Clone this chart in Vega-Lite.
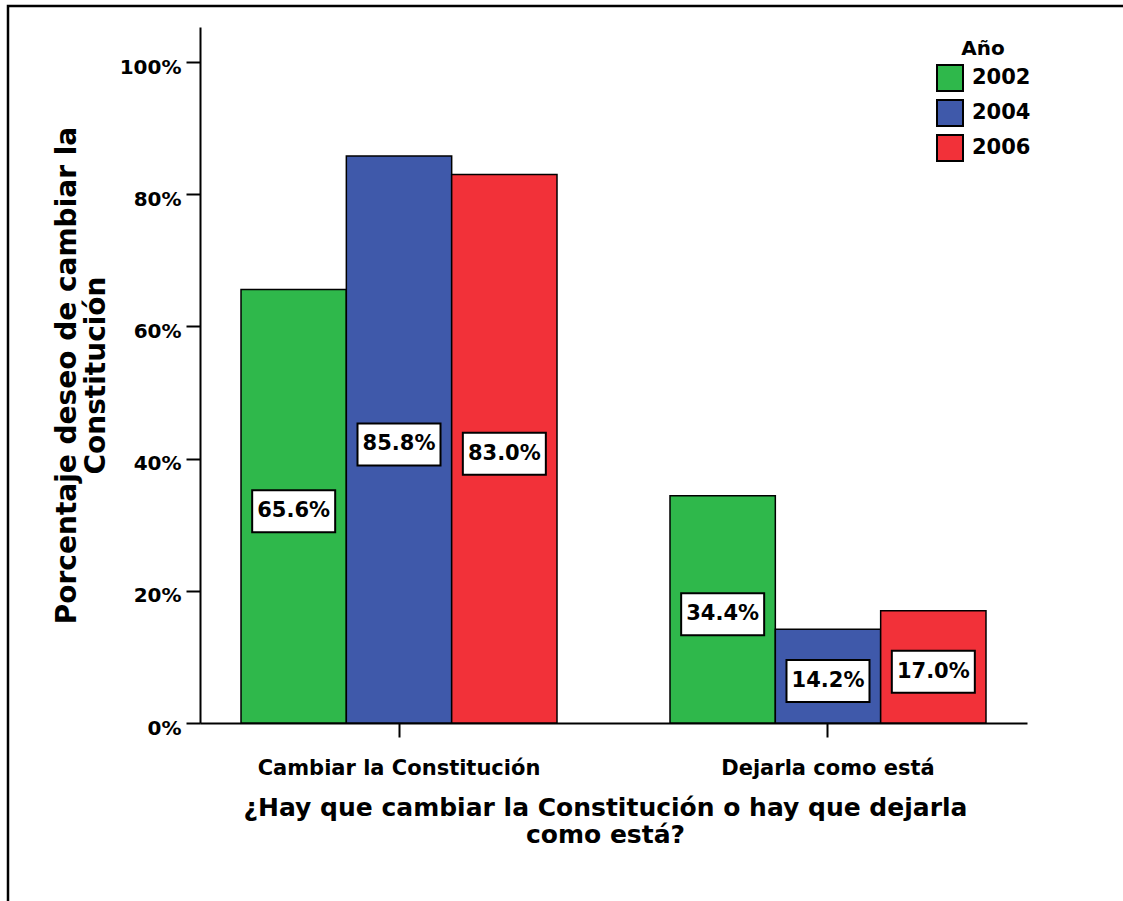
{
  "$schema": "https://vega.github.io/schema/vega-lite/v6.json",
  "width": 1118,
  "height": 900,
  "autosize": {"type": "none"},
  "padding": {"left": 8, "top": 6, "right": 0, "bottom": 0},
  "background": "white",
  "config": {
    "view": {"stroke": "black", "strokeWidth": 2.5},
    "font": "DejaVu Sans"
  },
  "data": {
    "values": [
      {"question": "Cambiar la Constitución", "year": "2002", "value": 0.656},
      {"question": "Cambiar la Constitución", "year": "2004", "value": 0.858},
      {"question": "Cambiar la Constitución", "year": "2006", "value": 0.830},
      {"question": "Dejarla como está", "year": "2002", "value": 0.344},
      {"question": "Dejarla como está", "year": "2004", "value": 0.142},
      {"question": "Dejarla como está", "year": "2006", "value": 0.170}
    ]
  },
  "encoding": {
    "x": {
      "field": "question",
      "type": "nominal",
      "sort": ["Cambiar la Constitución", "Dejarla como está"],
      "scale": {"range": [192, 1019], "paddingInner": 0.2634, "paddingOuter": 0.0956},
      "axis": {
        "orient": "bottom",
        "offset": -183,
        "title": ["¿Hay que cambiar la Constitución o hay que dejarla", "como está?"],
        "labelAngle": 0,
        "labelLimit": 0,
        "tickSize": 14,
        "tickWidth": 2,
        "tickColor": "black",
        "domainColor": "black",
        "domainWidth": 2,
        "labelFont": "DejaVu Sans",
        "labelFontWeight": "bold",
        "labelFontSize": 21,
        "labelColor": "black",
        "labelPadding": 20,
        "titleFont": "DejaVu Sans",
        "titleFontWeight": "bold",
        "titleFontSize": 25,
        "titleColor": "black",
        "titleLineHeight": 27,
        "titlePadding": 17,
        "titleX": 597
      }
    },
    "xOffset": {
      "field": "year",
      "type": "nominal",
      "sort": ["2002", "2004", "2006"],
      "scale": {"paddingInner": 0, "paddingOuter": 0}
    }
  },
  "layer": [
    {
      "mark": {"type": "bar", "stroke": "black", "strokeWidth": 1.5},
      "encoding": {
        "y": {
          "field": "value",
          "type": "quantitative",
          "title": ["Porcentaje deseo de cambiar la", "Constitución"],
          "scale": {"domain": [0, 1.053], "range": [717, 21], "nice": false, "zero": true},
          "axis": {
            "format": ".0%",
            "values": [0, 0.2, 0.4, 0.6, 0.8, 1.0],
            "offset": -192,
            "grid": false,
            "tickSize": 14,
            "tickWidth": 2,
            "tickColor": "black",
            "domainColor": "black",
            "domainWidth": 2,
            "labelFont": "DejaVu Sans",
            "labelFontWeight": "bold",
            "labelFontSize": 20,
            "labelColor": "black",
            "labelPadding": 5,
            "labelOffset": 5,
            "titleFont": "DejaVu Sans",
            "titleFontWeight": "bold",
            "titleFontSize": 28,
            "titleColor": "black",
            "titleLineHeight": 29,
            "titlePadding": 9
          }
        },
        "color": {
          "field": "year",
          "type": "nominal",
          "scale": {"domain": ["2002", "2004", "2006"], "range": ["#2FB84B", "#3F59AA", "#F23139"]},
          "legend": {
            "orient": "none",
            "legendX": 928,
            "legendY": 33,
            "title": "Año",
            "titleFont": "DejaVu Sans",
            "titleFontWeight": "bold",
            "titleFontSize": 20,
            "titleColor": "black",
            "titleAnchor": "middle",
            "titlePadding": 5,
            "symbolType": "square",
            "symbolSize": 676,
            "symbolStrokeColor": "black",
            "symbolStrokeWidth": 2,
            "symbolOpacity": 1,
            "labelFont": "DejaVu Sans",
            "labelFontWeight": "bold",
            "labelFontSize": 21,
            "labelColor": "black",
            "labelOffset": 8,
            "rowPadding": 1,
            "padding": 0
          }
        }
      }
    },
    {
      "transform": [{"calculate": "datum.value / 2", "as": "mid"}],
      "mark": {
        "type": "point",
        "shape": "M-1,-0.506L1,-0.506L1,0.506L-1,0.506Z",
        "size": 6889,
        "filled": true,
        "fill": "white",
        "stroke": "black",
        "strokeWidth": 2,
        "opacity": 1,
        "yOffset": 5
      },
      "encoding": {
        "y": {"field": "mid", "type": "quantitative", "title": ["Porcentaje deseo de cambiar la", "Constitución"]}
      }
    },
    {
      "transform": [{"calculate": "datum.value / 2", "as": "mid"}],
      "mark": {
        "type": "text",
        "font": "DejaVu Sans",
        "fontWeight": "bold",
        "fontSize": 21,
        "color": "black",
        "baseline": "middle",
        "align": "center",
        "yOffset": 5
      },
      "encoding": {
        "y": {"field": "mid", "type": "quantitative", "title": ["Porcentaje deseo de cambiar la", "Constitución"]},
        "text": {"field": "value", "type": "quantitative", "format": ".1%"}
      }
    }
  ]
}
